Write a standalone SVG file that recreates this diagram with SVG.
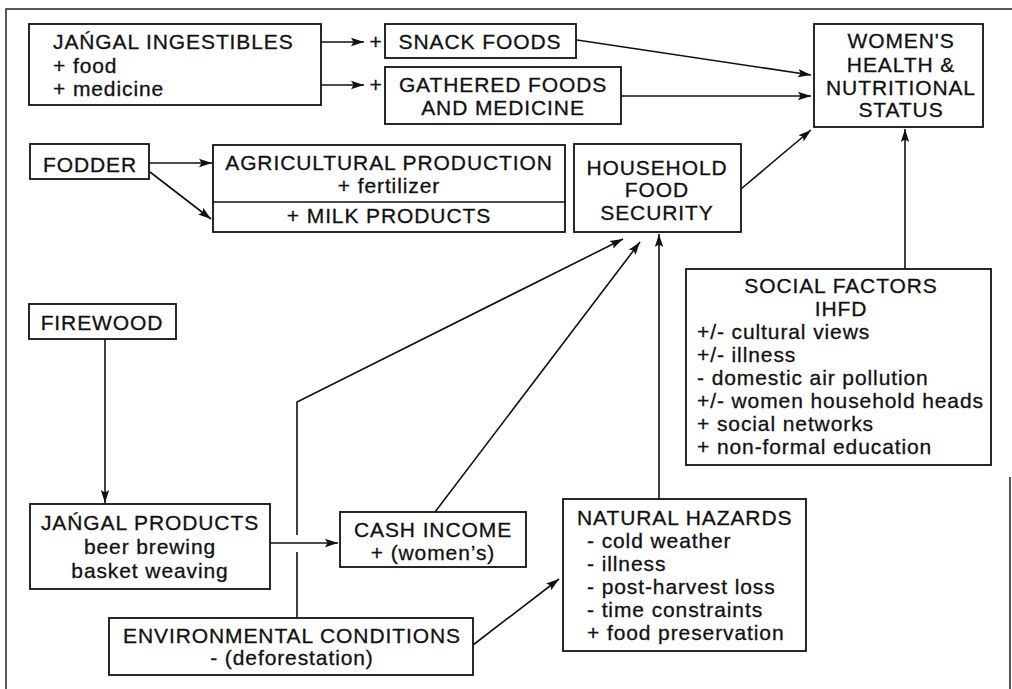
<svg xmlns="http://www.w3.org/2000/svg" width="1012" height="689" viewBox="0 0 1012 689">
<style>
text{font-family:"Liberation Sans",Arial,sans-serif;font-size:21px;letter-spacing:0.9px;fill:#111;stroke:#111;stroke-width:0.3}
.c{text-anchor:middle}
.box{fill:#fff;stroke:#111;stroke-width:1.8}
.ln{fill:none;stroke:#111;stroke-width:1.6}
.fr{fill:none;stroke:#222;stroke-width:1.5}
</style>
<defs>
<marker id="ah" markerUnits="userSpaceOnUse" markerWidth="14" markerHeight="10" refX="13" refY="5" orient="auto">
<path d="M0,0.8 L13,5 L0,9.2 L2.5,5 Z" fill="#111"/>
</marker>
</defs>
<rect width="1012" height="689" fill="#fff"/>
<path class="fr" d="M6,689 L6,9 L1012,9 M1010,477 L1010,689"/>

<g id="connectors">
<line class="ln" x1="321" y1="42" x2="364" y2="42" marker-end="url(#ah)"/>
<line class="ln" x1="321" y1="85" x2="364" y2="85" marker-end="url(#ah)"/>
<line class="ln" x1="577" y1="40" x2="811" y2="75" marker-end="url(#ah)"/>
<line class="ln" x1="621" y1="96" x2="811" y2="96" marker-end="url(#ah)"/>
<line class="ln" x1="741" y1="189" x2="811" y2="130" marker-end="url(#ah)"/>
<line class="ln" x1="905" y1="269" x2="905" y2="129" marker-end="url(#ah)"/>
<line class="ln" x1="149" y1="163" x2="212" y2="163" marker-end="url(#ah)"/>
<line class="ln" x1="150" y1="172" x2="211" y2="219" marker-end="url(#ah)"/>
<line class="ln" x1="105" y1="339" x2="105" y2="503" marker-end="url(#ah)"/>
<line class="ln" x1="270" y1="543" x2="338" y2="543" marker-end="url(#ah)"/>
<line class="ln" x1="435" y1="512" x2="640" y2="242" marker-end="url(#ah)"/>
<path class="ln" d="M297,617 L297,552 M297,535 L297,402 L623,239" marker-end="url(#ah)"/>
<line class="ln" x1="473" y1="645" x2="559" y2="579" marker-end="url(#ah)"/>
<line class="ln" x1="659" y1="499" x2="659" y2="234" marker-end="url(#ah)"/>
<text class="c" x="376" y="49">+</text>
<text class="c" x="376" y="92">+</text>
</g>

<g id="jangal-ingestibles">
<rect class="box" x="29" y="24" width="292" height="81"/>
<text x="53" y="49">JAŃGAL INGESTIBLES</text>
<text x="53" y="73">+ food</text>
<text x="53" y="96">+ medicine</text>
</g>

<g id="snack-foods">
<rect class="box" x="385" y="24" width="191" height="34"/>
<text class="c" x="480" y="49">SNACK FOODS</text>
</g>

<g id="gathered-foods">
<rect class="box" x="385" y="67" width="236" height="57"/>
<text class="c" x="503" y="92">GATHERED FOODS</text>
<text class="c" x="503" y="115">AND MEDICINE</text>
</g>

<g id="womens-health">
<rect class="box" x="814" y="24" width="169" height="103"/>
<text class="c" x="901" y="48">WOMEN'S</text>
<text class="c" x="901" y="72">HEALTH &amp;</text>
<text class="c" x="901" y="95">NUTRITIONAL</text>
<text class="c" x="901" y="117">STATUS</text>
</g>

<g id="fodder">
<rect class="box" x="30" y="144" width="119" height="35"/>
<text class="c" x="90" y="172">FODDER</text>
</g>

<g id="agricultural-production">
<rect class="box" x="213" y="145" width="352" height="87"/>
<line class="ln" x1="213" y1="202" x2="565" y2="202"/>
<text class="c" x="389" y="170">AGRICULTURAL PRODUCTION</text>
<text class="c" x="389" y="193">+ fertilizer</text>
<text class="c" x="389" y="223">+ MILK PRODUCTS</text>
</g>

<g id="household-food-security">
<rect class="box" x="574" y="144" width="167" height="88"/>
<text class="c" x="657" y="175">HOUSEHOLD</text>
<text class="c" x="657" y="197">FOOD</text>
<text class="c" x="657" y="220">SECURITY</text>
</g>

<g id="social-factors">
<rect class="box" x="686" y="269" width="305" height="196"/>
<text class="c" x="841" y="293">SOCIAL FACTORS</text>
<text class="c" x="841" y="316">IHFD</text>
<text x="697" y="339">+/- cultural views</text>
<text x="697" y="362">+/- illness</text>
<text x="697" y="385">- domestic air pollution</text>
<text x="697" y="408">+/- women household heads</text>
<text x="697" y="431">+ social networks</text>
<text x="697" y="454">+ non-formal education</text>
</g>

<g id="firewood">
<rect class="box" x="29" y="304" width="147" height="35"/>
<text class="c" x="102" y="330">FIREWOOD</text>
</g>

<g id="jangal-products">
<rect class="box" x="30" y="504" width="240" height="85"/>
<text class="c" x="150" y="530">JAŃGAL PRODUCTS</text>
<text class="c" x="150" y="554">beer brewing</text>
<text class="c" x="150" y="578">basket weaving</text>
</g>

<g id="cash-income">
<rect class="box" x="340" y="512" width="186" height="55"/>
<text class="c" x="433" y="537">CASH INCOME</text>
<text class="c" x="433" y="560">+ (women’s)</text>
</g>

<g id="natural-hazards">
<rect class="box" x="563" y="499" width="243" height="152"/>
<text x="577" y="525">NATURAL HAZARDS</text>
<text x="587" y="548">- cold weather</text>
<text x="587" y="571">- illness</text>
<text x="587" y="594">- post-harvest loss</text>
<text x="587" y="617">- time constraints</text>
<text x="587" y="640">+ food preservation</text>
</g>

<g id="environmental-conditions">
<rect class="box" x="109" y="618" width="364" height="57"/>
<text class="c" x="292" y="643">ENVIRONMENTAL CONDITIONS</text>
<text class="c" x="292" y="665">- (deforestation)</text>
</g>
</svg>
